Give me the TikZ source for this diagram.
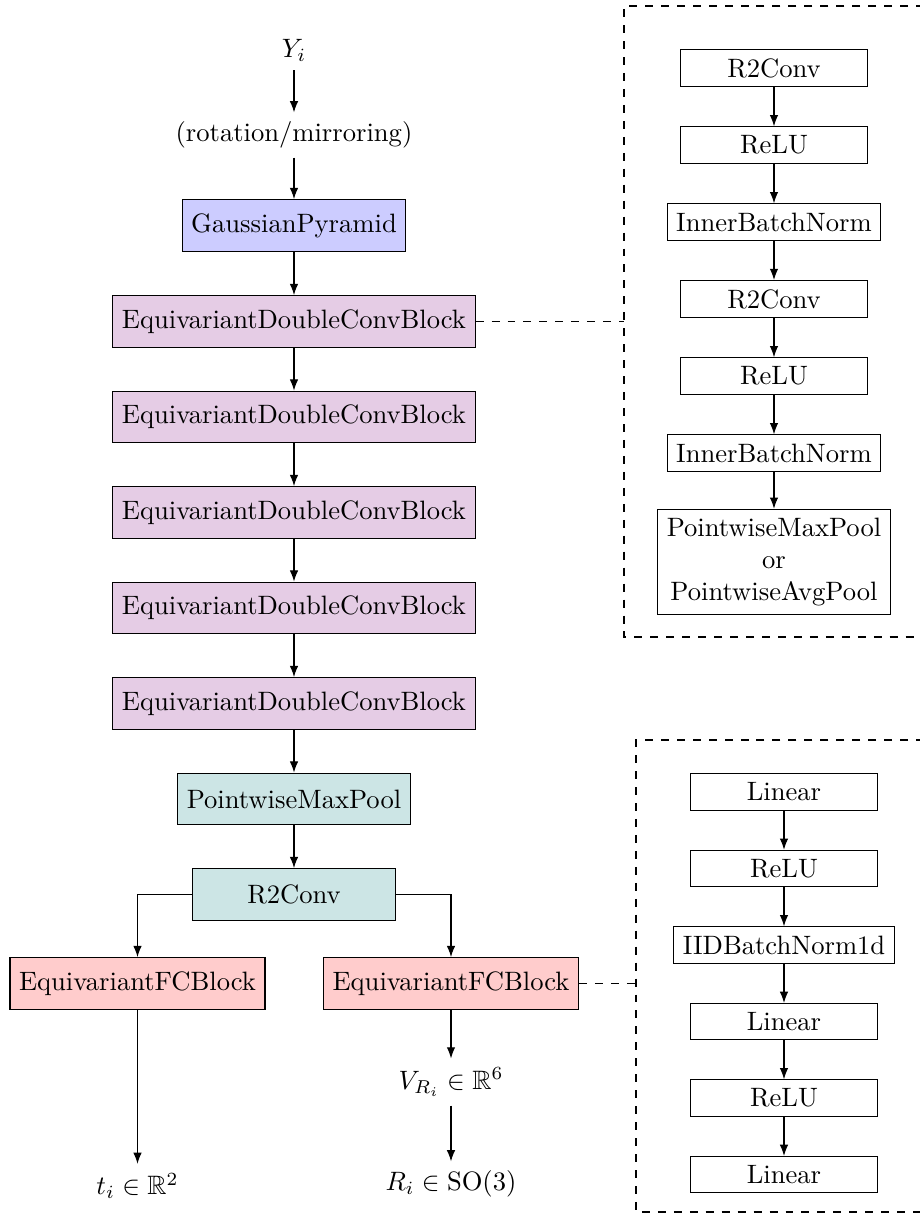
\documentclass[tikz,border=0pt]{standalone}
\usepackage{amssymb}
\usetikzlibrary{arrows.meta}
\definecolor{gpfill}{rgb}{0.8,0.8,1}
\definecolor{edfill}{rgb}{0.9,0.8,0.9}
\definecolor{tlfill}{rgb}{0.8,0.9,0.9}
\definecolor{fcfill}{rgb}{1,0.8,0.8}
\begin{document}
\begin{tikzpicture}[x=0.376pt,y=-0.376pt,
  blk/.style={draw, minimum height=19.5pt, inner xsep=3.4pt},
  sub/.style={draw, minimum width=70.6pt, inner sep=3.33pt, align=center},
  lbl/.style={inner sep=3.33pt},
  arr/.style={-{Latex[length=4.2pt,width=3.2pt]}},
  link/.style={dashed}
]
\useasboundingbox (0,0) rectangle (920,1218);
\clip (0,0) rectangle (920,1218);

% main column
\node[lbl] (y) at (294,50) {$Y_i$};
\node[lbl] (rot) at (294,135) {(rotation/mirroring)};
\node[blk, fill=gpfill] (gp) at (294,225.5) {GaussianPyramid};
\node[blk, fill=edfill] (e1) at (294,321.5) {EquivariantDoubleConvBlock};
\node[blk, fill=edfill] (e2) at (294,417) {EquivariantDoubleConvBlock};
\node[blk, fill=edfill] (e3) at (294,512.5) {EquivariantDoubleConvBlock};
\node[blk, fill=edfill] (e4) at (294,608) {EquivariantDoubleConvBlock};
\node[blk, fill=edfill] (e5) at (294,703.5) {EquivariantDoubleConvBlock};
\node[blk, fill=tlfill] (pmp) at (294,799) {PointwiseMaxPool};
\node[blk, fill=tlfill, minimum width=76pt] (rc) at (294,894.5) {R2Conv};
\node[blk, fill=fcfill] (fl) at (137.5,983.5) {EquivariantFCBlock};
\node[blk, fill=fcfill] (fr) at (451,983.5) {EquivariantFCBlock};
\node[lbl] (t) at (137.5,1186) {$t_i \in \mathbb{R}^2$};
\node[lbl] (v) at (451,1082) {$V_{R_i} \in \mathbb{R}^6$};
\node[lbl] (r) at (451,1184) {$R_i \in \mathrm{SO}(3)$};

\draw[arr] (y) -- (rot);
\draw[arr] (rot) -- (gp);
\draw[arr] (gp) -- (e1);
\draw[arr] (e1) -- (e2);
\draw[arr] (e2) -- (e3);
\draw[arr] (e3) -- (e4);
\draw[arr] (e4) -- (e5);
\draw[arr] (e5) -- (pmp);
\draw[arr] (pmp) -- (rc);
\draw[arr] (rc.west) -| (fl.north);
\draw[arr] (rc.east) -| (fr.north);
\draw[arr] (fl) -- (t);
\draw[arr] (fr) -- (v);
\draw[arr] (v) -- (r);

% upper detail
\draw[link] (940,6) -- (624,6) -- (624,637) -- (940,637);
\node[sub] (a1) at (774,68) {R2Conv};
\node[sub] (a2) at (774,145) {ReLU};
\node[sub] (a3) at (774,222) {InnerBatchNorm};
\node[sub] (a4) at (774,299) {R2Conv};
\node[sub] (a5) at (774,376) {ReLU};
\node[sub] (a6) at (774,453) {InnerBatchNorm};
\node[sub] (a7) at (774,562) {PointwiseMaxPool\\or\\PointwiseAvgPool};
\draw[arr] (a1) -- (a2);
\draw[arr] (a2) -- (a3);
\draw[arr] (a3) -- (a4);
\draw[arr] (a4) -- (a5);
\draw[arr] (a5) -- (a6);
\draw[arr] (a6) -- (a7);
\coordinate (ua) at (624,321.5);
\draw[link] (e1.east) -- (ua);

% lower detail
\draw[link] (940,740) -- (636,740) -- (636,1212) -- (940,1212);
\node[sub] (b1) at (784,792) {Linear};
\node[sub] (b2) at (784,868.5) {ReLU};
\node[sub] (b3) at (784,945) {IIDBatchNorm1d};
\node[sub] (b4) at (784,1021.5) {Linear};
\node[sub] (b5) at (784,1098) {ReLU};
\node[sub] (b6) at (784,1174.5) {Linear};
\draw[arr] (b1) -- (b2);
\draw[arr] (b2) -- (b3);
\draw[arr] (b3) -- (b4);
\draw[arr] (b4) -- (b5);
\draw[arr] (b5) -- (b6);
\coordinate (la) at (636,983.5);
\draw[link] (fr.east) -- (la);
\end{tikzpicture}
\end{document}
